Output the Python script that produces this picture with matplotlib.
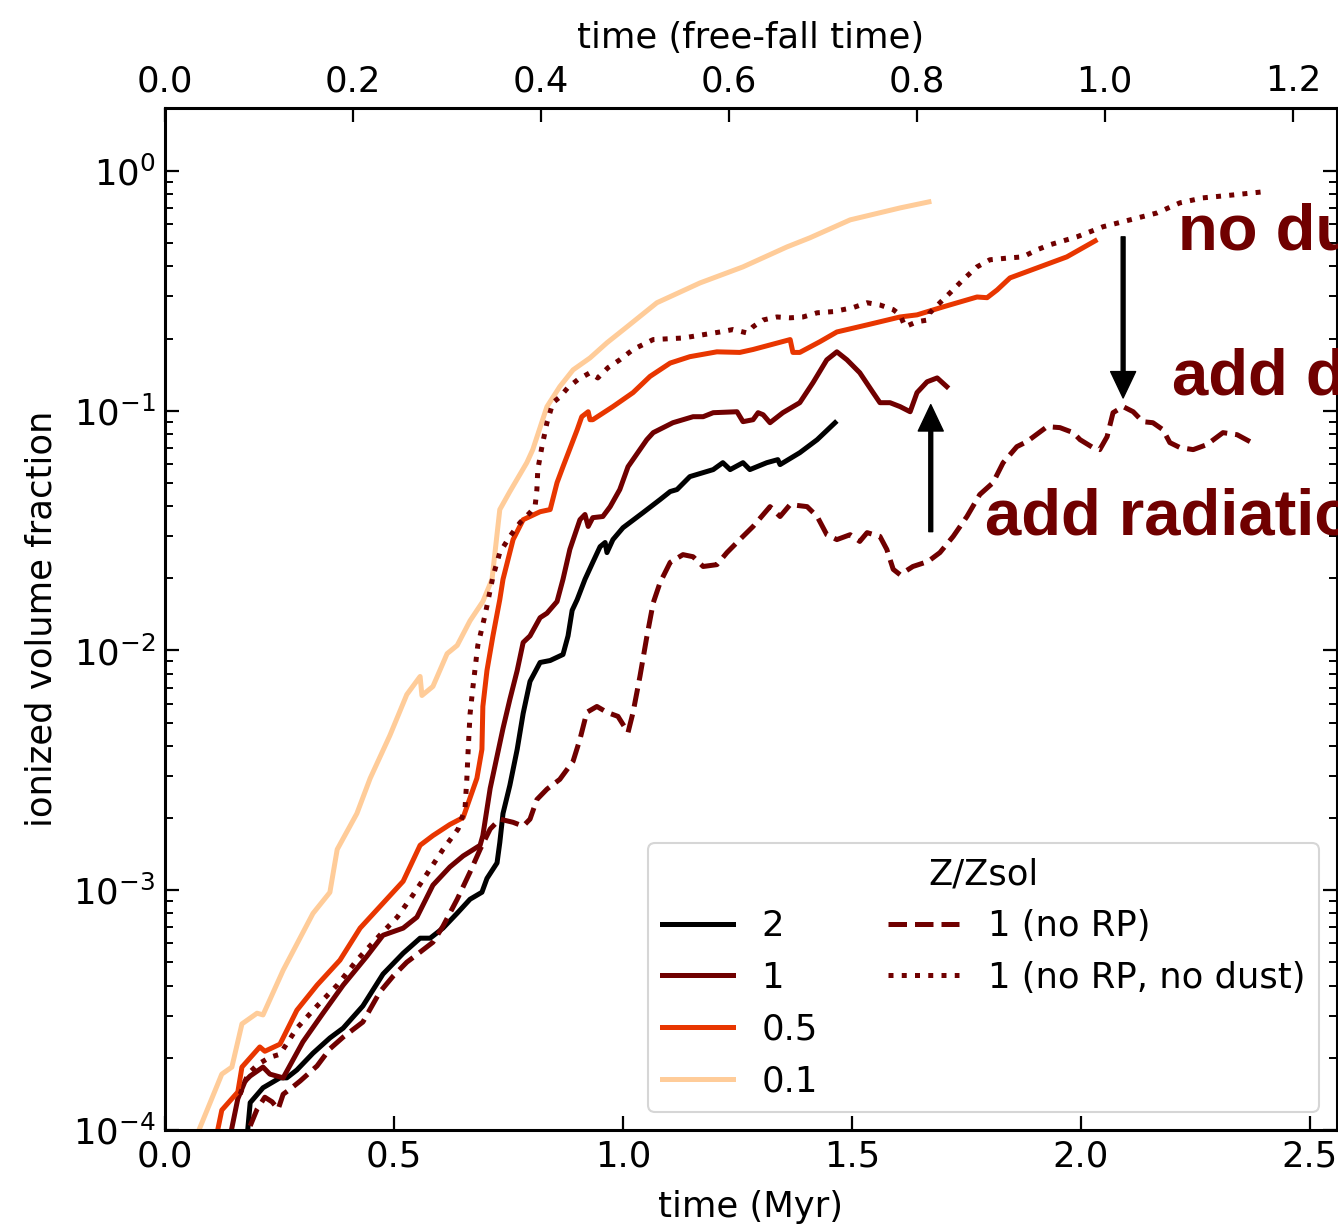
import matplotlib
matplotlib.use("Agg")
import matplotlib.pyplot as plt
from matplotlib.lines import Line2D
import numpy as np

# ---------------- data ----------------
T_FF = 2.052  # Myr per free-fall time

t_z2 = [0.181, 0.186, 0.214, 0.251, 0.266, 0.288, 0.323, 0.360, 0.389, 0.432, 0.476, 0.520, 0.557, 0.579,
        0.607, 0.638, 0.666, 0.692, 0.703, 0.725, 0.731, 0.738, 0.753, 0.769, 0.782, 0.797, 0.819, 0.841,
        0.869, 0.880, 0.889, 0.900, 0.917, 0.934, 0.950, 0.961, 0.965, 0.978, 1.000, 1.044, 1.081, 1.103,
        1.118, 1.146, 1.197, 1.218, 1.234, 1.262, 1.277, 1.314, 1.338, 1.343, 1.386, 1.424, 1.463]
f_z2 = [1.02e-4, 1.30e-4, 1.50e-4, 1.65e-4, 1.65e-4, 1.78e-4, 2.09e-4, 2.42e-4, 2.66e-4, 3.29e-4, 4.47e-4,
        5.46e-4, 6.31e-4, 6.31e-4, 6.95e-4, 8.02e-4, 9.17e-4, 9.81e-4, 1.12e-3, 1.30e-3, 1.58e-3, 2.09e-3,
        2.74e-3, 3.87e-3, 5.46e-3, 7.43e-3, 8.91e-3, 9.08e-3, 9.62e-3, 1.15e-2, 1.47e-2, 1.63e-2, 1.98e-2,
        2.33e-2, 2.71e-2, 2.82e-2, 2.56e-2, 2.90e-2, 3.25e-2, 3.76e-2, 4.26e-2, 4.60e-2, 4.69e-2, 5.31e-2,
        5.68e-2, 6.07e-2, 5.68e-2, 6.07e-2, 5.68e-2, 6.07e-2, 6.25e-2, 5.96e-2, 6.68e-2, 7.57e-2, 8.91e-2]

t_z1 = [0.146, 0.159, 0.175, 0.186, 0.214, 0.229, 0.258, 0.301, 0.345, 0.389, 0.441, 0.476, 0.520, 0.550,
        0.585, 0.622, 0.651, 0.688, 0.694, 0.710, 0.725, 0.738, 0.753, 0.769, 0.782, 0.797, 0.819, 0.834,
        0.856, 0.869, 0.884, 0.906, 0.917, 0.924, 0.934, 0.956, 0.972, 0.993, 1.011, 1.052, 1.066, 1.109,
        1.153, 1.175, 1.197, 1.249, 1.262, 1.284, 1.295, 1.306, 1.321, 1.349, 1.386, 1.415, 1.445, 1.467,
        1.489, 1.517, 1.546, 1.561, 1.583, 1.605, 1.627, 1.642, 1.664, 1.686, 1.707]
f_z1 = [1.02e-4, 1.35e-4, 1.60e-4, 1.68e-4, 1.83e-4, 1.71e-4, 1.65e-4, 2.33e-4, 3.07e-4, 4.02e-4, 5.31e-4,
        6.49e-4, 6.95e-4, 7.72e-4, 1.05e-3, 1.25e-3, 1.39e-3, 1.54e-3, 1.69e-3, 2.66e-3, 3.62e-3, 4.73e-3,
        6.25e-3, 8.25e-3, 1.08e-2, 1.15e-2, 1.37e-2, 1.43e-2, 1.60e-2, 1.98e-2, 2.64e-2, 3.51e-2, 3.69e-2,
        3.29e-2, 3.58e-2, 3.62e-2, 3.98e-2, 4.69e-2, 5.84e-2, 7.57e-2, 8.10e-2, 8.91e-2, 9.44e-2, 9.44e-2,
        9.81e-2, 9.90e-2, 9.00e-2, 9.17e-2, 9.81e-2, 9.62e-2, 8.91e-2, 9.81e-2, 0.108, 0.131, 0.163, 0.176,
        0.163, 0.144, 0.119, 0.108, 0.108, 0.104, 0.099, 0.119, 0.132, 0.137, 0.126]

t_z05 = [0.116, 0.124, 0.159, 0.168, 0.207, 0.218, 0.251, 0.288, 0.332, 0.382, 0.426, 0.476, 0.520, 0.557,
         0.585, 0.622, 0.651, 0.681, 0.692, 0.694, 0.703, 0.716, 0.731, 0.738, 0.760, 0.782, 0.819, 0.841,
         0.856, 0.869, 0.900, 0.910, 0.924, 0.928, 0.934, 0.978, 1.022, 1.059, 1.103, 1.146, 1.205, 1.255,
         1.284, 1.321, 1.365, 1.371, 1.386, 1.430, 1.467, 1.533, 1.605, 1.642, 1.699, 1.773, 1.795, 1.817,
         1.845, 1.904, 1.969, 2.031]
f_z05 = [1.02e-4, 1.21e-4, 1.44e-4, 1.83e-4, 2.22e-4, 2.13e-4, 2.28e-4, 3.16e-4, 4.02e-4, 5.11e-4, 6.95e-4,
         8.83e-4, 1.09e-3, 1.54e-3, 1.69e-3, 1.88e-3, 2.01e-3, 2.93e-3, 3.87e-3, 5.84e-3, 8.25e-3, 1.15e-2,
         1.63e-2, 1.98e-2, 2.90e-2, 3.51e-2, 3.79e-2, 3.87e-2, 5.01e-2, 5.84e-2, 8.33e-2, 9.44e-2, 9.90e-2,
         9.17e-2, 9.17e-2, 0.104, 0.119, 0.139, 0.158, 0.168, 0.176, 0.175, 0.180, 0.188, 0.198, 0.175,
         0.175, 0.194, 0.213, 0.228, 0.246, 0.251, 0.271, 0.298, 0.296, 0.319, 0.358, 0.394, 0.438, 0.511]

t_z01 = [0.076, 0.124, 0.146, 0.168, 0.201, 0.214, 0.258, 0.323, 0.360, 0.376, 0.419, 0.448, 0.491, 0.528,
         0.557, 0.561, 0.585, 0.616, 0.638, 0.666, 0.694, 0.714, 0.731, 0.753, 0.790, 0.803, 0.834, 0.862,
         0.891, 0.928, 0.965, 1.009, 1.074, 1.168, 1.262, 1.358, 1.408, 1.496, 1.605, 1.668]
f_z01 = [1.02e-4, 1.71e-4, 1.83e-4, 2.77e-4, 3.07e-4, 3.02e-4, 4.64e-4, 8.00e-4, 9.80e-4, 1.48e-3, 2.09e-3,
         2.93e-3, 4.42e-3, 6.55e-3, 7.79e-3, 6.49e-3, 7.08e-3, 9.70e-3, 1.05e-2, 1.33e-2, 1.60e-2, 1.98e-2,
         3.87e-2, 4.60e-2, 6.07e-2, 6.88e-2, 0.104, 0.126, 0.148, 0.166, 0.192, 0.224, 0.282, 0.341, 0.398,
         0.482, 0.526, 0.625, 0.701, 0.743]

t_norp = [0.186, 0.201, 0.218, 0.234, 0.247, 0.258, 0.273, 0.295, 0.332, 0.360, 0.389, 0.432, 0.469, 0.498,
          0.528, 0.557, 0.585, 0.607, 0.638, 0.666, 0.688, 0.710, 0.731, 0.760, 0.782, 0.797, 0.812, 0.834,
          0.862, 0.891, 0.906, 0.921, 0.943, 0.965, 0.989, 1.011, 1.022, 1.037, 1.052, 1.066, 1.081, 1.103,
          1.131, 1.153, 1.175, 1.205, 1.227, 1.255, 1.284, 1.321, 1.343, 1.365, 1.402, 1.424, 1.445, 1.467,
          1.496, 1.517, 1.533, 1.561, 1.576, 1.590, 1.605, 1.633, 1.666, 1.692, 1.721, 1.751, 1.779, 1.808,
          1.830, 1.860, 1.882, 1.926, 1.954, 1.983, 1.998, 2.026, 2.041, 2.057, 2.070, 2.092, 2.114, 2.135,
          2.157, 2.179, 2.194, 2.216, 2.245, 2.275, 2.310, 2.341, 2.369]
f_norp = [1.04e-4, 1.22e-4, 1.37e-4, 1.31e-4, 1.22e-4, 1.41e-4, 1.48e-4, 1.60e-4, 1.85e-4, 2.18e-4, 2.44e-4,
          2.82e-4, 3.76e-4, 4.38e-4, 5.01e-4, 5.52e-4, 6.07e-4, 7.08e-4, 9.17e-4, 1.19e-3, 1.48e-3, 1.80e-3,
          1.98e-3, 1.92e-3, 1.85e-3, 1.98e-3, 2.39e-3, 2.64e-3, 2.90e-3, 3.45e-3, 4.26e-3, 5.52e-3, 5.84e-3,
          5.52e-3, 5.31e-3, 4.55e-3, 5.52e-3, 7.79e-3, 1.14e-2, 1.58e-2, 1.92e-2, 2.33e-2, 2.51e-2, 2.46e-2,
          2.24e-2, 2.28e-2, 2.56e-2, 2.90e-2, 3.29e-2, 3.98e-2, 3.62e-2, 4.06e-2, 3.98e-2, 3.62e-2, 3.04e-2,
          2.90e-2, 3.04e-2, 2.85e-2, 3.10e-2, 2.99e-2, 2.64e-2, 2.18e-2, 2.07e-2, 2.24e-2, 2.35e-2, 2.56e-2,
          2.99e-2, 3.62e-2, 4.47e-2, 5.01e-2, 6.07e-2, 7.08e-2, 7.43e-2, 8.58e-2, 8.50e-2, 8.10e-2, 7.57e-2,
          7.02e-2, 6.88e-2, 7.79e-2, 9.81e-2, 0.104, 9.90e-2, 9.00e-2, 8.91e-2, 8.33e-2, 7.36e-2, 7.02e-2,
          6.88e-2, 7.22e-2, 8.10e-2, 7.94e-2, 7.43e-2]

t_nodust = [0.164, 0.181, 0.203, 0.229, 0.251, 0.288, 0.332, 0.376, 0.419, 0.469, 0.507, 0.541, 0.572, 0.607,
            0.640, 0.655, 0.659, 0.662, 0.666, 0.672, 0.683, 0.699, 0.716, 0.731, 0.753, 0.775, 0.797, 0.808,
            0.812, 0.814, 0.823, 0.834, 0.847, 0.862, 0.880, 0.902, 0.928, 0.945, 0.967, 0.993, 1.022, 1.066,
            1.131, 1.212, 1.240, 1.271, 1.284, 1.306, 1.336, 1.365, 1.393, 1.424, 1.459, 1.502, 1.533, 1.561,
            1.590, 1.605, 1.616, 1.642, 1.666, 1.670, 1.692, 1.714, 1.742, 1.773, 1.801, 1.845, 1.873, 1.904,
            1.932, 1.991, 2.048, 2.107, 2.166, 2.216, 2.266, 2.332, 2.397]
f_nodust = [1.41e-4, 1.71e-4, 1.88e-4, 2.01e-4, 2.07e-4, 2.66e-4, 3.29e-4, 4.02e-4, 5.11e-4, 6.49e-4, 7.72e-4,
            9.53e-4, 1.17e-3, 1.48e-3, 1.80e-3, 2.18e-3, 2.90e-3, 3.87e-3, 5.41e-3, 6.95e-3, 1.05e-2, 1.41e-2,
            2.03e-2, 2.56e-2, 2.99e-2, 3.41e-2, 3.76e-2, 3.98e-2, 4.69e-2, 5.68e-2, 7.08e-2, 8.91e-2, 0.108,
            0.114, 0.125, 0.135, 0.144, 0.137, 0.151, 0.163, 0.180, 0.198, 0.201, 0.213, 0.218, 0.211, 0.224,
            0.239, 0.246, 0.244, 0.246, 0.256, 0.259, 0.269, 0.282, 0.276, 0.264, 0.251, 0.224, 0.235, 0.239,
            0.256, 0.282, 0.310, 0.351, 0.398, 0.426, 0.434, 0.438, 0.469, 0.492, 0.531, 0.585, 0.625, 0.668,
            0.736, 0.772, 0.794, 0.818]

legend_labels = ["2", "1", "0.5", "0.1", "1 (no RP)", "1 (no RP, no dust)"]
annotation_texts = ["no dust", "add dust", "add radiation pressure"]

# ---------------- style ----------------
FS = 25.5
plt.rcParams['font.family'] = ['DejaVu Sans']
plt.rcParams['font.size'] = FS

C2 = "#000000"
C1 = "#700000"
C05 = "#e83600"
C01 = "#ffcc99"
LW = 3.6

fig = plt.figure(figsize=(13.38, 12.24), dpi=100)
ax = fig.add_axes([165 / 1338, 1 - 1130 / 1224, (1337 - 165) / 1338, (1130 - 108) / 1224])

ax.plot(t_z2, f_z2, color=C2, lw=LW, label=legend_labels[0])
ax.plot(t_z1, f_z1, color=C1, lw=LW, label=legend_labels[1])
ax.plot(t_z05, f_z05, color=C05, lw=LW, label=legend_labels[2])
ax.plot(t_z01, f_z01, color=C01, lw=LW, label=legend_labels[3])
ax.plot(t_norp, f_norp, color=C1, lw=LW, ls='--', label=legend_labels[4])
ax.plot(t_nodust, f_nodust, color=C1, lw=LW, ls=':', label=legend_labels[5])

ax.set_yscale('log')
ax.set_xlim(0, 2.559)
ax.set_ylim(1e-4, 1.83)
ax.set_xticks([0.0, 0.5, 1.0, 1.5, 2.0, 2.5])
ax.set_xlabel("time (Myr)", labelpad=12)
ax.set_ylabel("ionized volume fraction", labelpad=10)

for s in ax.spines.values():
    s.set_linewidth(2.2)
ax.tick_params(axis='both', which='major', direction='in', length=10, width=1.6, labelsize=FS, pad=7)
ax.tick_params(axis='both', which='minor', direction='in', length=6, width=1.4)
ax.tick_params(axis='y', which='both', right=True)
ax.tick_params(axis='x', which='both', top=False)

secax = ax.secondary_xaxis('top', functions=(lambda t: t / T_FF, lambda x: x * T_FF))
secax.set_xticks([0.0, 0.2, 0.4, 0.6, 0.8, 1.0, 1.2])
secax.tick_params(direction='in', length=10, width=1.6, labelsize=FS, pad=7)
secax.set_xlabel("time (free-fall time)", labelpad=12)

# legend with two blank entries so the columns are 4 + 2
handles, labels = ax.get_legend_handles_labels()
blank = Line2D([], [], color='none')
handles = handles + [blank, blank]
labels = labels + ["", ""]
leg = ax.legend(handles, labels, ncol=2, loc='lower right', title="Z/Zsol",
                fontsize=FS, title_fontsize=FS, borderaxespad=0.5, framealpha=0.8)
leg.get_frame().set_linewidth(1.5)

# annotations (text runs past the right edge, as in the original figure)
TXT = dict(color=C1, fontsize=47, fontweight='bold', family=['Liberation Sans', 'DejaVu Sans'],
           clip_on=False)
ax.text(2.212, 0.469, annotation_texts[0], **TXT)
ax.text(2.199, 0.1166, annotation_texts[1], **TXT)
ax.text(1.790, 0.0304, annotation_texts[2], **TXT)

ARR = dict(facecolor='black', edgecolor='black', width=2.8, headwidth=18, headlength=19, shrink=0)
ax.annotate("", xy=(2.092, 0.113), xytext=(2.092, 0.531), arrowprops=ARR)
ax.annotate("", xy=(1.672, 0.106), xytext=(1.672, 0.0313), arrowprops=ARR)

fig.savefig("out.png", dpi=100)
